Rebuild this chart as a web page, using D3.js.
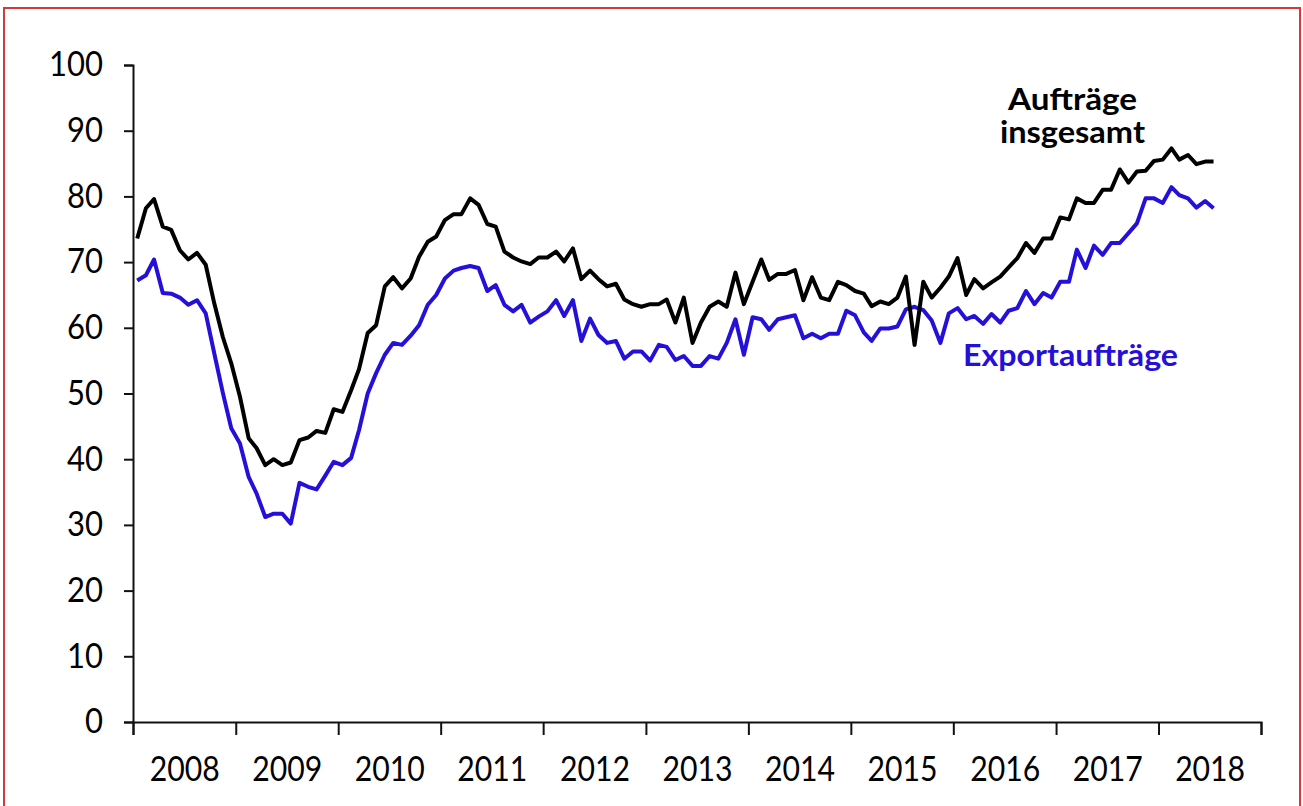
<!DOCTYPE html>
<html>
<head>
<meta charset="utf-8">
<script src="https://cdn.jsdelivr.net/npm/d3@7"></script>
<style>
  html, body { margin: 0; padding: 0; background: #fff; }
  svg { display: block; }
  text { font-family: Lato, "Open Sans", sans-serif; }
</style>
</head>
<body>
<svg id="chart" width="1303" height="806"></svg>
<script>
// ---- data (monthly, Jan 2008 – Jul 2018) ----
const startYear = 2008;
const yearLabels = ["2008","2009","2010","2011","2012","2013","2014","2015","2016","2017","2018"];
const yTicks = [0, 10, 20, 30, 40, 50, 60, 70, 80, 90, 100];

const auftraegeInsgesamt = [
  73.6, 78.2, 79.6, 75.4, 74.9, 71.8, 70.4, 71.4, 69.6, 63.8, 58.6, 54.6,
  49.5, 43.2, 41.7, 39.1, 40.0, 39.1, 39.5, 42.9, 43.3, 44.3, 44.0, 47.6,
  47.2, 50.5, 53.7, 59.2, 60.4, 66.3, 67.7, 66.0, 67.5, 70.8, 73.1, 73.9,
  76.4, 77.3, 77.3, 79.7, 78.7, 75.8, 75.4, 71.6, 70.7, 70.1, 69.7, 70.7,
  70.7, 71.6, 70.1, 72.1, 67.4, 68.7, 67.4, 66.3, 66.7, 64.3, 63.6, 63.2,
  63.6, 63.6, 64.3, 60.8, 64.6, 57.7, 60.8, 63.2, 64.0, 63.2, 68.4, 63.6,
  67.0, 70.4, 67.3, 68.2, 68.2, 68.8, 64.2, 67.7, 64.6, 64.2, 67.0, 66.5,
  65.6, 65.2, 63.3, 64.0, 63.6, 64.6, 67.8, 57.4, 67.0, 64.6, 66.1, 67.8,
  70.6, 65.0, 67.4, 66.0, 66.9, 67.8, 69.2, 70.6, 72.9, 71.4, 73.6, 73.6,
  76.8, 76.5, 79.7, 79.0, 79.0, 81.0, 81.0, 84.1, 82.1, 83.8, 83.9, 85.4,
  85.6, 87.3, 85.6, 86.3, 84.9, 85.3, 85.3
];

const exportauftraege = [
  67.2, 68.0, 70.4, 65.3, 65.2, 64.6, 63.5, 64.2, 62.2, 56.2, 50.1, 44.7,
  42.4, 37.3, 34.8, 31.2, 31.7, 31.7, 30.2, 36.4, 35.8, 35.4, 37.5, 39.6,
  39.1, 40.2, 44.4, 50.0, 53.1, 55.9, 57.7, 57.4, 58.8, 60.4, 63.5, 65.0,
  67.5, 68.7, 69.1, 69.4, 69.1, 65.6, 66.5, 63.5, 62.5, 63.5, 60.8, 61.7,
  62.5, 64.2, 61.8, 64.2, 58.0, 61.4, 58.9, 57.7, 58.0, 55.3, 56.4, 56.4,
  55.0, 57.4, 57.1, 55.1, 55.7, 54.2, 54.2, 55.7, 55.3, 57.7, 61.3, 55.9,
  61.6, 61.3, 59.7, 61.3, 61.6, 61.9, 58.4, 59.1, 58.4, 59.1, 59.1, 62.6,
  61.9, 59.3, 58.0, 59.9, 59.9, 60.2, 62.8, 63.2, 62.7, 61.1, 57.7, 62.2,
  63.0, 61.3, 61.8, 60.6, 62.1, 60.8, 62.6, 63.0, 65.6, 63.6, 65.3, 64.6,
  67.0, 67.0, 71.9, 69.1, 72.5, 71.1, 72.9, 72.9, 74.4, 75.9, 79.7, 79.7,
  79.0, 81.4, 80.2, 79.7, 78.3, 79.3, 78.2
];

const seriesNames = ["Aufträge insgesamt", "Exportaufträge"];

// ---- layout ----
const svg = d3.select("#chart");
const plot = { left: 133, right: 1261, top: 65, bottom: 722 };
const BLACK = "#000000";
const BLUE = "#2410d8";

// frame
svg.append("rect")
  .attr("x", 4).attr("y", 8)
  .attr("width", 1296).attr("height", 810)
  .attr("fill", "none").attr("stroke", "#d33a3a").attr("stroke-width", 2);

const x = d3.scaleTime()
  .domain([new Date(startYear, 0, 1), new Date(startYear + yearLabels.length, 0, 1)])
  .range([plot.left, plot.right]);
const y = d3.scaleLinear().domain([0, 100]).range([plot.bottom, plot.top]);

const monthDate = i => new Date(startYear, i, 16);

// y axis
const yAxis = svg.append("g")
  .attr("transform", `translate(${plot.left},0)`)
  .call(d3.axisLeft(y).tickValues(yTicks).tickSize(9).tickPadding(21));
yAxis.select(".domain").attr("stroke", "#111").attr("stroke-width", 2);
yAxis.selectAll(".tick line").attr("stroke", "#111").attr("stroke-width", 2);
yAxis.selectAll(".tick text")
  .attr("font-size", 34).attr("fill", "#000")
  .attr("textLength", d => d === 100 ? 54 : (d === 0 ? 18 : 36))
  .attr("lengthAdjust", "spacingAndGlyphs")
  .style("font-family", "Lato, sans-serif");

// x axis (year boundary ticks)
const yearBounds = d3.range(yearLabels.length + 1).map(k => new Date(startYear + k, 0, 1));
const xAxis = svg.append("g")
  .attr("transform", `translate(0,${plot.bottom})`)
  .call(d3.axisBottom(x).tickValues(yearBounds).tickSize(13).tickFormat(""));
xAxis.select(".domain").attr("stroke", "#111").attr("stroke-width", 2);
xAxis.selectAll(".tick line").attr("stroke", "#111").attr("stroke-width", 2);

// year labels centred within each year
const yearMid = yearLabels.map((lab, k) => ({ lab, d: new Date(startYear + k, 6, 2) }));
const labAxis = svg.append("g")
  .attr("transform", `translate(0,${plot.bottom})`)
  .call(d3.axisBottom(x).tickValues(yearMid.map(o => o.d)).tickSize(0).tickPadding(35)
    .tickFormat((d, i) => yearLabels[i]));
labAxis.select(".domain").remove();
labAxis.selectAll(".tick text")
  .attr("font-size", 34).attr("fill", "#000")
  .attr("textLength", 70).attr("lengthAdjust", "spacingAndGlyphs")
  .style("font-family", "Lato, sans-serif");

// lines
const line = d3.line()
  .x((d, i) => x(monthDate(i)))
  .y(d => y(d))
  .curve(d3.curveLinear);

svg.append("path").datum(exportauftraege)
  .attr("d", line).attr("fill", "none")
  .attr("stroke", BLUE).attr("stroke-width", 4).attr("stroke-linejoin", "round");

svg.append("path").datum(auftraegeInsgesamt)
  .attr("d", line).attr("fill", "none")
  .attr("stroke", BLACK).attr("stroke-width", 4).attr("stroke-linejoin", "round");

// series labels
const lab1 = svg.append("text")
  .attr("text-anchor", "start")
  .attr("font-size", 30).attr("font-weight", 700).attr("fill", BLACK);
lab1.append("tspan").attr("x", 1008).attr("y", 110)
  .attr("textLength", 129).attr("lengthAdjust", "spacingAndGlyphs").text("Aufträge");
lab1.append("tspan").attr("x", 1000).attr("y", 143)
  .attr("textLength", 145).attr("lengthAdjust", "spacingAndGlyphs").text("insgesamt");

svg.append("text")
  .attr("x", 963).attr("y", 366)
  .attr("font-size", 30).attr("font-weight", 700).attr("fill", BLUE)
  .attr("textLength", 215).attr("lengthAdjust", "spacingAndGlyphs")
  .text("Exportaufträge");
</script>
</body>
</html>
